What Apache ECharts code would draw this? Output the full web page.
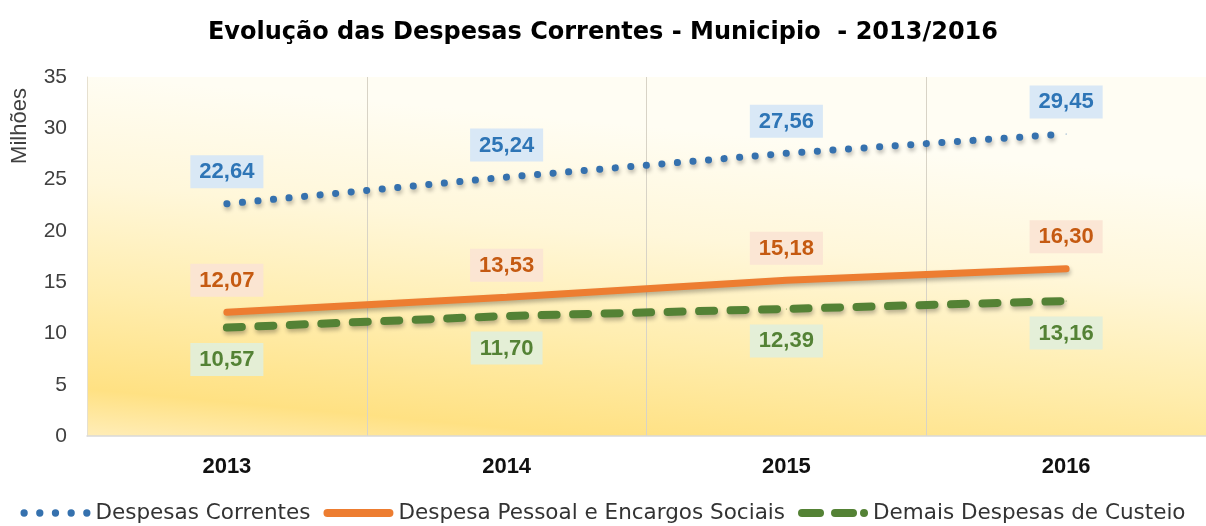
<!DOCTYPE html>
<html>
<head>
<meta charset="utf-8">
<script src="https://cdn.jsdelivr.net/npm/echarts@6/dist/echarts.min.js"></script>
<style>
html,body{margin:0;padding:0;background:#fff;}
#chart{width:1206px;height:526px;}
</style>
</head>
<body>
<div id="chart"></div>
<script>
var categories = ['2013', '2014', '2015', '2016'];
var despesasCorrentes = [22.64, 25.24, 27.56, 29.45];
var despesaPessoal = [12.07, 13.53, 15.18, 16.30];
var demaisDespesas = [10.57, 11.70, 12.39, 13.16];
var seriesNames = ['Despesas Correntes', 'Despesa Pessoal e Encargos Sociais', 'Demais Despesas de Custeio'];
var titleText = 'Evolução das Despesas Correntes - Municipio  - 2013/2016';
var yAxisName = 'Milhões';

function fmt(v) { return v.toFixed(2).replace('.', ','); }

var chart = echarts.init(document.getElementById('chart'), null, {renderer: 'canvas'});
var FONT = 'Arial, "Liberation Sans", sans-serif';
var WIDE = '"DejaVu Sans", sans-serif';
var shadow = {shadowColor: 'rgba(0,0,0,0.28)', shadowBlur: 4, shadowOffsetY: 3, shadowOffsetX: 1};

function circ(cx, cy, r) {
  return 'M' + (cx - r) + ' ' + cy + ' A' + r + ' ' + r + ' 0 1 0 ' + (cx + r) + ' ' + cy +
         ' A' + r + ' ' + r + ' 0 1 0 ' + (cx - r) + ' ' + cy + ' Z ';
}
function rrect(x0, x1, h) {
  var r = h / 2;
  return 'M' + (x0 + r) + ' 0 L' + (x1 - r) + ' 0 A' + r + ' ' + r + ' 0 0 1 ' + (x1 - r) + ' ' + h +
         ' L' + (x0 + r) + ' ' + h + ' A' + r + ' ' + r + ' 0 0 1 ' + (x0 + r) + ' 0 Z ';
}
var iconDots = 'path://' + circ(4, 4, 3.6) + circ(19.5, 4, 3.6) + circ(35, 4, 3.6) + circ(50.5, 4, 3.6) + circ(66, 4, 3.6);
var iconSolid = 'path://' + rrect(0, 70, 8);
var iconDash = 'path://' + rrect(0, 26, 8) + rrect(33, 59, 8) + circ(66, 4, 4);

function labelCfg(pos, color, bg) {
  return {
    show: true, position: pos, distance: 15,
    formatter: function (p) { return fmt(p.value); },
    fontFamily: FONT, fontSize: 22, fontWeight: 'bold', color: color,
    backgroundColor: bg, padding: [6, 9, 5, 9]
  };
}

var option = {
  backgroundColor: '#ffffff',
  animation: false,
  title: {
    text: titleText, left: 'center', top: 16,
    textStyle: {fontFamily: WIDE, fontSize: 24, fontWeight: 'bold', color: '#000'}
  },
  graphic: [{
    type: 'text', x: 20, y: 126, rotation: Math.PI / 2,
    style: {text: yAxisName, font: '22px ' + FONT, fill: '#404040', align: 'center', verticalAlign: 'middle'}
  }],
  legend: {
    top: 497, left: 'center', itemWidth: 70, itemHeight: 8, itemGap: 13,
    textStyle: {fontFamily: WIDE, fontSize: 21.5, color: '#333'},
    data: [
      {name: seriesNames[0], icon: iconDots},
      {name: seriesNames[1], icon: iconSolid},
      {name: seriesNames[2], icon: iconDash}
    ]
  },
  grid: {
    left: 87, right: -9, top: 77, bottom: 90, show: true, borderWidth: 0,
    backgroundColor: new echarts.graphic.LinearGradient(0.03, 0, 0, 1, [
      {offset: 0, color: '#FFFDF3'},
      {offset: 0.3, color: '#FFF7DA'},
      {offset: 0.6, color: '#FFEDAE'},
      {offset: 0.87, color: '#FFE183'},
      {offset: 1, color: '#FFEDB8'}
    ])
  },
  xAxis: {
    type: 'category', data: categories, boundaryGap: true,
    axisLine: {show: true, lineStyle: {color: '#D9D9D9', width: 1.5}},
    axisTick: {show: false},
    axisLabel: {fontFamily: FONT, fontSize: 22, fontWeight: 'bold', color: '#111', margin: 20},
    splitLine: {show: true, lineStyle: {color: '#D8D3C6', width: 1}}
  },
  yAxis: {
    type: 'value', min: 0, max: 35, interval: 5,
    axisLine: {show: true, lineStyle: {color: '#E6E0D0'}},
    axisTick: {show: false},
    splitLine: {show: false},
    axisLabel: {fontFamily: FONT, fontSize: 21, color: '#404040', margin: 20}
  },
  series: [
    {
      name: seriesNames[0], type: 'line', data: despesasCorrentes,
      symbol: 'circle', symbolSize: 1, showSymbol: true, color: '#3571AE',
      lineStyle: Object.assign({color: '#3571AE', width: 7, type: [0.1, 15.5], cap: 'round'}, shadow),
      label: labelCfg('top', '#2E75B6', 'rgba(214,230,246,0.92)'),
      z: 3
    },
    {
      name: seriesNames[1], type: 'line', data: despesaPessoal,
      symbol: 'circle', symbolSize: 1, showSymbol: true, color: '#ED7D31',
      lineStyle: Object.assign({color: '#ED7D31', width: 7, cap: 'round'}, shadow),
      label: labelCfg('top', '#C55A11', 'rgba(251,228,212,0.92)'),
      z: 3
    },
    {
      name: seriesNames[2], type: 'line', data: demaisDespesas,
      symbol: 'circle', symbolSize: 1, showSymbol: true, color: '#548235',
      lineStyle: Object.assign({color: '#548235', width: 8, type: [15, 16.5], cap: 'round'}, shadow),
      label: labelCfg('bottom', '#548235', 'rgba(226,239,218,0.92)'),
      z: 3
    }
  ]
};
chart.setOption(option);
</script>
</body>
</html>
